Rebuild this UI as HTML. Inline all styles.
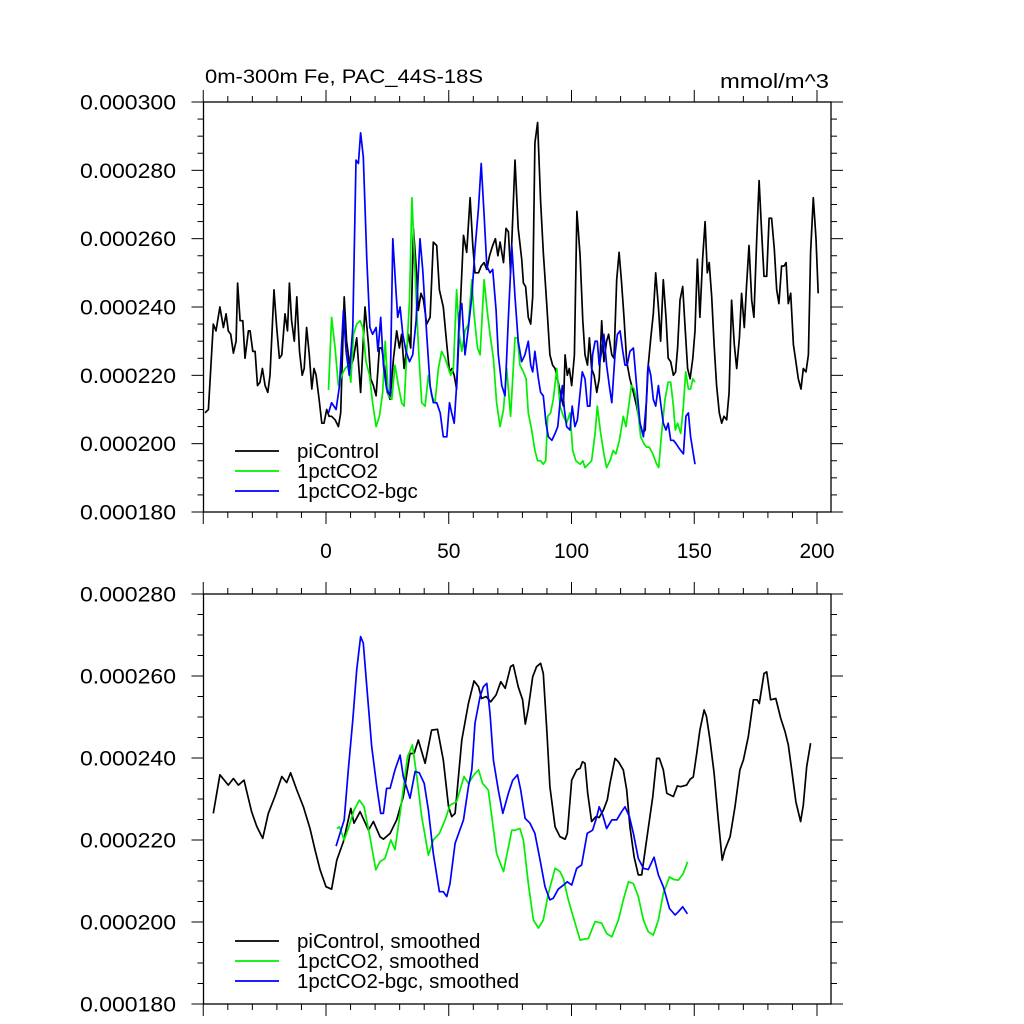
<!DOCTYPE html>
<html><head><meta charset="utf-8"><style>
html,body{margin:0;padding:0;background:#fff;}
svg{display:block;font-family:"Liberation Sans",Arial,sans-serif;}
</style></head><body>
<svg id="chart" width="1024" height="1024" viewBox="0 0 1024 1024" xmlns="http://www.w3.org/2000/svg">
<rect x="0" y="0" width="1024" height="1024" fill="#fff"/>
<text x="205" y="83" font-size="19" textLength="278" lengthAdjust="spacingAndGlyphs">0m-300m Fe, PAC_44S-18S</text>
<text x="720" y="88" font-size="20" textLength="109" lengthAdjust="spacingAndGlyphs">mmol/m^3</text>
<g id="top"></g>
<g id="bot"></g>
</svg>
<script>
// values in units of 1e-6 mmol/m^3
const xTickLabels = ["0","50","100","150","200"];
const xTickYears = [0,50,100,150,200];
const topYTicks = ["0.000180","0.000200","0.000220","0.000240","0.000260","0.000280","0.000300"];
const topYTickVals = [180,200,220,240,260,280,300];
const botYTicks = ["0.000180","0.000200","0.000220","0.000240","0.000260","0.000280"];
const botYTickVals = [180,200,220,240,260,280];
const topLegend = ["piControl","1pctCO2","1pctCO2-bgc"];
const botLegend = ["piControl, smoothed","1pctCO2, smoothed","1pctCO2-bgc, smoothed"];

const piYears = [-49.3,-47.9,-45.9,-44.8,-43.2,-41.8,-40.7,-39.8,-38.8,-37.7,-36.6,-36,-35,-33.9,-33,-31.6,-30.9,-29.8,-28.9,-27.9,-26.9,-25.9,-24.8,-23.7,-22.8,-21.2,-20.1,-19,-18,-16.7,-15.7,-14.9,-14,-12.9,-11.9,-10.8,-9.7,-8.9,-7.9,-6.8,-5.8,-4.9,-4.05,-2.8,-1.7,-0.8,0.3,1.25,2.3,3.7,5.05,6,7.4,8.4,9.8,11.2,12.5,14.1,15.9,17.3,18.2,19.3,20.4,21.75,22.7,23.8,25,26.1,27.5,28.8,29.9,30.8,31.8,33.6,34.5,35.6,36.7,37.6,38.7,39.7,41,42.4,43.7,45.1,46.2,47.8,49.2,50.3,51.3,52.2,53.2,56,57.3,58.7,59.8,60.7,62.1,63.2,64.4,65.5,66.6,67.9,69,70,70.9,72.3,73.3,74.3,75.2,77,78.3,79.7,80.4,81.3,82.4,83.4,84.2,85.1,86.2,87.4,88.5,89.9,91.2,92.3,93.3,94.6,96,96.7,97.4,98.3,99.1,100.1,101.2,102.2,103.5,104.6,105.5,106.5,107.3,108.2,109.2,110.3,111.3,112.3,113.2,114.3,115.1,116.4,117.3,118.4,119.4,120.4,121.4,122.5,123.8,125.2,126.5,127.9,129,130,131,132.3,133.3,134.3,135.4,136.3,137.4,138.5,139.4,140.4,141.5,142.4,143.2,144.2,145.3,146.2,147.3,148.3,149.4,150.3,151.3,152.3,153.4,154.4,155.3,156.1,157.1,158.1,159.1,160.2,161.2,162.1,163.2,164.2,165.2,166.3,167.3,168.4,169.3,170.4,171.3,172.3,173.4,174.3,175.4,176.4,177.5,178.4,179.5,180.5,181.5,182.6,183.6,184.5,185.6,186.6,187.4,188.3,189.3,190.4,191.4,192.4,193.5,194.4,195.5,196.5,197.4,198.5,199.6,200.5];
const piValues = [209,210,235,233,240,234,238,233,232,226.5,230,247,236,236,225,233,233,227,227,217,218,222,217,215,220,245,234,225,226,238,233,247,236,230,243,227,220,222,234,226,216,222,220,213,206,206,210,208,208,207,205,209,243,230,222,225,231,215,240,229,219,217,214,228,228,223,215,213,225,233,228,232,222,232,228,263,252,239,244,242,235,237,259,258,245,240,229,221,222,220,216,261,256,272,258,250,250,252,253,251,255,258,260,255,259,253,263,262,250,283,263,254,247,246,237,235,243,288,294,271,256,241,226,223,222,218,213,211,226,220,222,217,226,268,255,236,226,223,231,222,220,215,219,236,224,230,232,226,225,248,256,247,237,224,219,215,211,206,203,204,221,231,238,250,240,230,248,237,225,224,220,221,228,242,246,235,222,219,225,233,254,237,254,265,250,253,243,229,217,209,206,208,207,215,242,229,222,231,244,234,246,258,242,237,259,277,261,249,249,266,266,257,245,241,252,252,253,241,244,229,224,219,216,222,221,226,256,272,260,244];

const co2Years = [1,2.3,3.7,5.05,6.4,7.8,9.1,10.1,11.2,12.5,13.9,15,16.3,17.7,19,20.4,21.75,23.1,24.1,25.4,26.8,28.1,29.5,30.8,31.8,33.2,34,35,36.3,37.6,39,40.35,41.7,43,44.4,45.8,47.1,48.5,49.9,50.8,51.9,53.2,54.3,55.3,56.6,58,59.4,60.3,61.7,62.75,64.4,65.5,66.8,68.2,69.5,70.9,72.3,73.6,75.2,77,78,79,80.4,81.5,82.4,83.8,85.1,86.2,87.4,88.5,89.5,90.3,91.5,92.6,94,95.3,96.7,98,99.4,100.5,101.8,103.5,104.6,105.5,106.9,108.2,109.6,110.5,111.9,113.2,114.3,115.7,117,118.1,119.5,121.1,122.2,123.3,124.4,125.5,126.5,128.2,129.5,130.6,131.7,133.1,134.7,135.5,136.7,138.1,139.4,140.4,141.5,142.3,143.2,144.5,145.6,146.5,147.6,148.5,149.4,150.3];
const co2Values = [215.7,237,228,217,220,222,223,218,232,235,236,234,224,220,212,205,208,215,230,214,213,223,217,212,211,231,242,272,250,229,212,211,220,214,212,222,227,225,222,220,222,245,232,227,233,235,248,238,228,226,248,240,232,225,212,205,210,222,208,231,231,223,221,219,209,204,198,195,195,194,195,208,209,213,222,211,208,206,209,198,195,194,195,193,194,195,203,211,203,197,193,195,198,197,201,208,205,211,217,216,213,202,200,199,199,197,194,193,203,213,218,218,211,204,206,203,211,221,216,216,219,218];

const bgcYears = [1,2.3,4.1,5.5,7.1,8.2,9.5,10.9,12.2,13.2,14.1,15.2,16.6,17.9,19,20.4,21.2,22.3,23.4,24.7,26.1,27.2,28.4,29.2,30.2,31.3,32.6,34,35.3,36.7,38.3,39.4,41,42.4,43.7,45.1,46.5,47.8,49.2,50.3,51.2,52.2,53.2,54.3,55.3,56.6,58,59.4,60.7,62.1,63.2,64.4,65.5,66.8,67.9,69.3,70.2,71.6,72.9,74.3,75.7,77,78.3,79.7,81,82.4,83.4,84.2,85.1,86.5,87.4,88.5,89.6,90.6,92,93.3,94.4,95.3,96.3,97.1,98,99.4,100.3,101.4,102.4,103.5,104.4,105.5,106.5,107.5,108.6,109.6,110.5,111.3,112.3,113.2,114.3,115.4,116.4,117.7,118.7,119.8,120.9,121.8,122.7,123.8,125.2,126.5,127.9,129.3,130.6,131.3,132.3,133.3,134.3,135.4,136.3,137.4,138.5,139.4,140.4,141.5,142.6,143.5,144.5,145.6,146.6,147.6,148.5,150.3];
const bgcValues = [209,212,210,217,239,227,220,234,283,282,291,284,254,234,232,234,227,237,223,216,214,260,246,237,240,232,227,224,226,236,260,251,232,217,212,212,209,202,202,212,209,206,217,238,241,226,234,243,257,269,282,267,252,250,251,239,226,217,214,237,258,243,230,224,226,230,223,221,227,219,215,214,206,202,201,203,205,212,217,210,205,204,211,205,207,215,221,219,211,211,226,230,230,223,227,232,223,217,212,226,232,233,227,223,223,227,228,217,206,202,213,223,220,213,211,217,212,206,204,206,201,201,200,199,198,197,208,209,202,194];

const piSmYears = [-45.9,-43.2,-39.8,-37.7,-35.7,-33.4,-30.3,-28.2,-25.8,-23.5,-20.8,-18,-16,-14.4,-11.9,-9.2,-6.5,-4.5,-2.4,0,2.3,4.4,7.1,10.1,11.4,13.9,17.3,19.3,22,23.4,26.1,28.8,31.5,34.2,35.9,37.6,40.35,43,45.4,47.8,49.9,51.2,52.6,55.3,58,60.3,62.1,63.4,65.2,67.1,69.3,71.2,73,75.2,76.3,78.3,80.1,81.2,82.4,84.2,85.8,87.4,88.5,90,91.2,93.3,95.3,97.4,98.3,100.1,102.1,103.5,104.5,105.5,106.6,108.2,110,111.3,113,114.6,115.7,117.7,119.1,121.1,122.5,123.8,125.5,127.2,128.6,130.6,133.1,134.7,135.8,137.4,138.8,140.1,141.5,143.1,144.5,146.9,148.3,149.6,151,152.3,154,155,156.4,158.1,159.8,161.4,162.5,164.6,166.6,168.6,170,172,174.1,175.7,176.5,178.4,179.5,181.1,183.2,185.2,187,188.3,189.7,191.4,193.3,194.4,195.8,197.4];
const piSmValues = [226.5,235.9,233.4,235,233.4,234.6,226.9,223.3,220.4,226.5,230.6,235.5,234,236.4,232.2,228.1,222.8,217.6,212.7,208.6,208,215.1,219.6,227.7,224.1,226.9,222.4,224.5,220.8,220.2,221.6,224.9,230.6,241.1,241.1,244.4,238.7,246.8,247,239.5,228.2,225.7,226.5,244.4,253.3,258.8,257.4,254.5,255,253.7,255.4,258.6,257,262.3,262.7,257.4,254.2,248.3,252.1,259.8,262.3,263.1,260.6,246,233,223.2,220.8,220.2,221.6,234.6,237.1,237.5,239.1,238.7,231.4,224.5,225.7,225.5,227.3,229.8,233.8,239.9,239.1,237.1,232.2,223.3,215.9,211.5,211.5,220,230.6,239.9,239.9,237.1,231.4,231,230.6,233.2,233,233.4,234.8,235.4,241.1,246.8,251.7,250.1,244.4,236.3,224.9,215.1,217.6,220.8,228.1,237.1,239.5,245.2,254.2,254.2,253.3,260.6,261,254.2,254.5,249.7,246.4,243.2,237.1,229.3,224.5,228.5,237.9,243.6];

const co2SmYears = [4.4,5.5,7.4,9.1,11.4,13.6,15.5,17.9,20.3,22,24,26.4,28.1,30.2,33.2,35.2,37,39,41.7,43.7,46.2,48.5,50.5,53.2,56.2,58,60.3,62.1,63.8,66.1,69.5,72.3,75.7,77,79,80.4,82.4,84.5,86.5,88.5,90.6,93.3,95.3,96.7,98.7,100.7,103.5,106.9,109.6,112.3,114.3,116.4,119.1,121.1,123.2,125.2,127.2,129.3,131.3,133.3,135.4,137.4,139.9,141.5,143.5,145.6,147.3];
const co2SmValues = [222.8,223.2,220,222.8,227.3,229.7,228.1,220.8,212.7,214.7,215.5,220,217.6,226.5,240.3,243.2,235.5,225.7,216.3,220,221.6,224.9,228.5,229.3,235.5,233.8,235.9,237.1,233.8,232.2,216.7,212.3,222.4,222.4,222.8,220,209.4,200.5,198.5,200.5,207,213.1,212.3,210.6,205.4,201.3,195.6,196,200.1,199.7,197.2,196.4,200.5,205.4,209.8,209.4,206.2,200.5,197.6,196.8,200.5,207,211,210.4,210.2,211.9,214.7];

const bgcSmYears = [4.1,5.7,7.4,9.1,10.9,12.5,14.1,15.2,16.6,18.6,20.7,22.3,23.4,24.7,26.1,28.1,30.2,31.5,34.2,36.3,38,40,41.7,43.7,46.2,47.8,49.2,50.5,52.6,56,58,59.4,60.7,62.75,64.1,65.5,66.8,68.2,70.2,72,74.3,76,78,79.3,81.1,83.1,85.1,87.2,89.2,91.2,92.6,94.6,96.7,98.3,100.1,102.1,104.1,106.4,108.6,110.3,111.3,112.7,114.3,116.4,118.4,120.4,121.8,123.6,125.2,127.2,129.3,131.3,133.6,135.4,137.4,139.9,142.2,143.5,145.3,147.2];
const bgcSmValues = [218.5,221.6,224.9,237.1,249.3,261.5,269.6,268,257.4,242.8,233,226.5,226.5,232.6,232.6,237.1,240.7,235.5,230.2,236.7,236.4,233.8,227.3,216.7,207.4,207.4,206.2,209.4,219.2,224.9,233,237.1,248.5,255,257.4,258.2,250.9,239.5,232.2,226.5,231.4,234.5,235.9,232.2,225.3,224.1,221.6,215.1,208.6,205.4,205.8,208,209,209.8,209,213.1,213.9,221.6,222.4,225.7,228.1,226.1,222.8,224.9,224.9,226.9,228.1,225.7,221.6,215.5,213.1,212.8,215.8,211.5,208.6,203.3,201.7,202.5,203.7,202];

const NS = "http://www.w3.org/2000/svg";
const X0 = 203.5, X1 = 831, PXY = 2.455;
function xScale(yr){ return 326 + yr * PXY; }
function mk(tag, attrs, parent){
  const e = document.createElementNS(NS, tag);
  for (const k in attrs) e.setAttribute(k, attrs[k]);
  parent.appendChild(e);
  return e;
}

function panel(g, top, bottom, vmin, vmax, yTicks, yTickVals, showXLabels, series, legend, legY){
  const yScale = v => bottom - (v - vmin) / (vmax - vmin) * (bottom - top);
  const fr = mk('rect', {x:X0, y:top, width:X1-X0, height:bottom-top, fill:'none', stroke:'#000', 'stroke-width':1.3}, g);
  
  
  for (let v = vmin; v <= vmax + 0.001; v += 5) {
    const major = Math.abs((v - vmin) % 20) < 0.01;
    const L = major ? 12 : 6;
    const y = yScale(v);
    const t1 = mk('line', {x1:X0-L, y1:y, x2:X0, y2:y, stroke:'#000', 'stroke-width':1}, g);
    
    
    const t2 = mk('line', {x1:X1, y1:y, x2:X1+L, y2:y, stroke:'#000', 'stroke-width':1}, g);
    
    
  }
  yTicks.forEach((lab, i) => {
    const t = mk('text', {x:80, y:yScale(yTickVals[i]) + 7.5, 'font-size':21, textLength:96, lengthAdjust:'spacingAndGlyphs'}, g);
    t.textContent = lab;
    
    
  });
  for (let yr = -50; yr <= 200; yr += 10) {
    const x = xScale(yr);
    const major = yr % 50 === 0;
    const L = major ? 12 : 6;
    const a = mk('line', {x1:x, y1:bottom, x2:x, y2:bottom+L, stroke:'#000', 'stroke-width':1}, g);
    
    
    const b = mk('line', {x1:x, y1:top-L, x2:x, y2:top, stroke:'#000', 'stroke-width':1}, g);
    
    
  }
  if (showXLabels) {
    xTickLabels.forEach((lab, i) => {
      const t = mk('text', {x:xScale(xTickYears[i]), y:bottom + 46, 'font-size':21, 'text-anchor':'middle'}, g);
      t.textContent = lab;
      
      
    });
  }
  series.forEach(s => {
    const d = s.years.map((yr, i) => (i ? 'L' : 'M') + xScale(yr).toFixed(1) + ',' + yScale(s.values[i]).toFixed(1)).join(' ');
    const p = mk('path', {d:d, fill:'none', stroke:s.color, 'stroke-width':1.7, 'stroke-linejoin':'round'}, g);
    
    
  });
  legend.forEach((lab, i) => {
    const y = legY + i * 20;
    const l = mk('line', {x1:235, y1:y, x2:279, y2:y, stroke:series[i].color, 'stroke-width':1.7}, g);
    
    
    const t = mk('text', {x:297, y:y + 7, 'font-size':20.5}, g);
    t.textContent = lab;
    
    
  });
}

panel(document.getElementById('top'), 102, 512, 180, 300, topYTicks, topYTickVals, true, [
  {years:piYears, values:piValues, color:'#000000', name:'picontrol-line'},
  {years:co2Years, values:co2Values, color:'#00ee00', name:'1pctco2-line'},
  {years:bgcYears, values:bgcValues, color:'#0000ff', name:'1pctco2-bgc-line'}
], topLegend, 451);

panel(document.getElementById('bot'), 594, 1004, 180, 280, botYTicks, botYTickVals, false, [
  {years:piSmYears, values:piSmValues, color:'#000000', name:'picontrol-smoothed-line'},
  {years:co2SmYears, values:co2SmValues, color:'#00ee00', name:'1pctco2-smoothed-line'},
  {years:bgcSmYears, values:bgcSmValues, color:'#0000ff', name:'1pctco2-bgc-smoothed-line'}
], botLegend, 941);
</script>
</body></html>
